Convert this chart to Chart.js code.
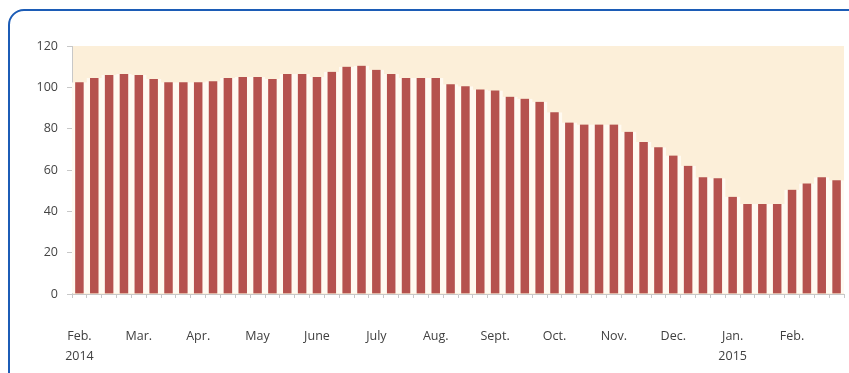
<!DOCTYPE html>
<html>
<head>
<meta charset="utf-8">
<script src="https://cdn.jsdelivr.net/npm/chart.js@4.4.1/dist/chart.umd.min.js"></script>
<style>
  html, body { margin: 0; padding: 0; background: #fff; overflow: hidden; }
  #wrap { position: relative; width: 849px; height: 373px; }
  #frame {
    position: absolute; left: 8px; top: 9px; width: 900px; height: 420px;
    border: 2px solid #1c5cb6; border-radius: 16px; pointer-events: none;
  }
</style>
</head>
<body>
<div id="wrap">
  <canvas id="myChart" width="849" height="373"></canvas>
  <div id="frame"></div>
</div>
<script>
// weekly index, Feb. 2014 - Feb. 2015
const months = ['Feb.', 'Mar.', 'Apr.', 'May', 'June', 'July', 'Aug.', 'Sept.', 'Oct.', 'Nov.', 'Dec.', 'Jan.', 'Feb.'];
const years = ['2014', '', '', '', '', '', '', '', '', '', '', '2015', ''];
const values = [
  102.5, 104.5, 106, 106.5, 106, 104, 102.5, 102.5,
  102.5, 103, 104.5, 105, 105, 104, 106.5, 106.5,
  105, 107.5, 110, 110.5, 108.5, 106.5, 104.5, 104.5,
  104.5, 101.5, 100.5, 99, 98.5, 95.5, 94.5, 93,
  88, 83, 82, 82, 82, 78.5, 73.5, 71,
  67, 62, 56.5, 56, 47, 43.5, 43.5, 43.5,
  50.5, 53.5, 56.5, 55
];
const yTicks = [0, 20, 40, 60, 80, 100, 120];

const weeks = values.map((v, i) => {
  if (i % 4 !== 0) return '';
  const m = i / 4;
  return years[m] ? [months[m], years[m]] : months[m];
});

const plotBg = {
  id: 'plotBg',
  beforeDraw(chart) {
    const a = chart.chartArea, c = chart.ctx;
    c.save();
    c.fillStyle = '#fcefd9';
    c.fillRect(a.left, a.top, a.right - a.left, a.bottom - a.top);
    c.restore();
  }
};

const ctx = document.getElementById('myChart');

new Chart(ctx, {
  type: 'bar',
  data: {
    labels: weeks,
    datasets: [{
      data: values,
      backgroundColor: '#b5524e',
      borderColor: '#fffaf1',
      borderWidth: { left: 3.5, right: 3.5, top: 0, bottom: 0 },
      borderSkipped: false,
      barPercentage: 1,
      categoryPercentage: 1
    }]
  },
  options: {
    responsive: false,
    animation: false,
    layout: { padding: { top: 46, right: 5, left: 0, bottom: 0 } },
    plugins: { legend: { display: false }, tooltip: { enabled: false } },
    scales: {
      x: {
        grid: { drawOnChartArea: false, tickLength: 4, color: '#c8c8c8' },
        border: { color: '#c8c8c8' },
        afterFit(s) { s.height = 79; s.paddingLeft = 0; s.paddingRight = 0; },
        ticks: {
          autoSkip: false, maxRotation: 0, padding: 28,
          color: '#404040',
          font: { family: 'Open Sans', size: 12.5, lineHeight: 1.6 }
        }
      },
      y: {
        min: 0, max: 120,
        afterFit(s) { s.width = 72; s.paddingTop = 0; s.paddingBottom = 0; },
        afterBuildTicks(s) { s.ticks = yTicks.map(v => ({ value: v })); },
        grid: { drawOnChartArea: false, tickLength: 5, color: '#c8c8c8' },
        border: { color: '#c8c8c8' },
        ticks: {
          padding: 9, color: '#444',
          font: { family: 'Open Sans', size: 12.5 }
        }
      }
    }
  },
  plugins: [plotBg]
});
</script>
</body>
</html>
